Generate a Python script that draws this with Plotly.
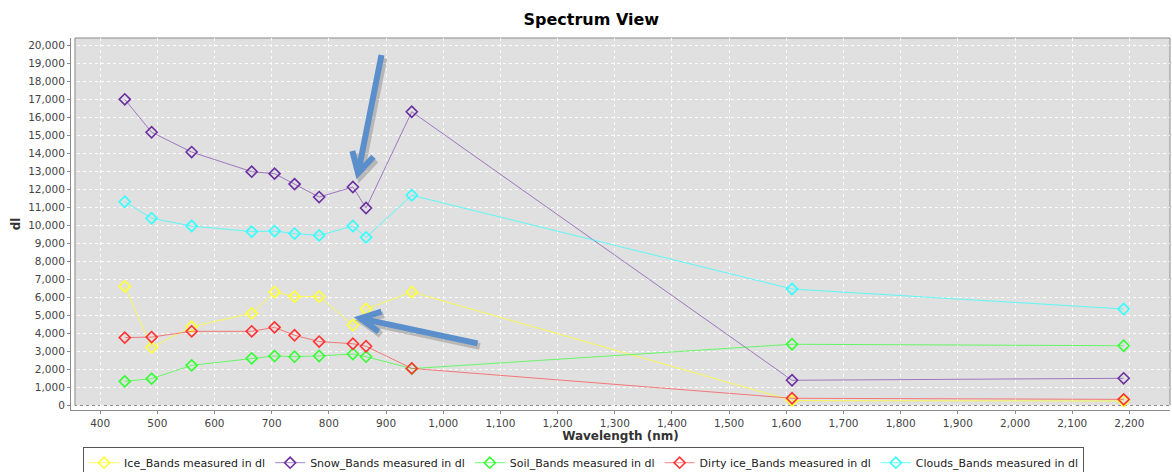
import plotly.graph_objects as go

# Band centre wavelengths (nm) and the measured values for each surface class
wavelength_nm = [443, 490, 560, 665, 705, 740, 783, 842, 865, 945, 1610, 2190]
ice_dl = [6610, 3220, 4370, 5110, 6290, 6040, 6040, 4460, 5350, 6290, 260, 240]
snow_dl = [17000, 15170, 14070, 12980, 12870, 12290, 11570, 12130, 10960, 16310, 1390, 1500]
soil_dl = [1330, 1480, 2220, 2610, 2740, 2700, 2740, 2850, 2700, 2040, 3390, 3310]
dirty_ice_dl = [3760, 3790, 4110, 4110, 4330, 3890, 3540, 3420, 3280, 2050, 390, 330]
clouds_dl = [11310, 10390, 9960, 9650, 9680, 9540, 9440, 9960, 9330, 11670, 6460, 5350]

series_names = [
    "Ice_Bands measured in dl",
    "Snow_Bands measured in dl",
    "Soil_Bands measured in dl",
    "Dirty ice_Bands measured in dl",
    "Clouds_Bands measured in dl",
]
series_values = [ice_dl, snow_dl, soil_dl, dirty_ice_dl, clouds_dl]
marker_colors = ["#ffff33", "#6a2ea0", "#33ff33", "#ff3333", "#33ffff"]
line_colors = [
    "rgba(255,255,40,0.75)",
    "rgba(110,50,165,0.6)",
    "rgba(50,255,50,0.7)",
    "rgba(255,50,50,0.6)",
    "rgba(50,255,255,0.75)",
]

fig = go.Figure()
for name, vals, mc, lc in zip(series_names, series_values, marker_colors, line_colors):
    fig.add_trace(go.Scatter(
        x=wavelength_nm, y=vals, name=name, mode="lines+markers",
        line=dict(color=lc, width=1),
        marker=dict(symbol="diamond-open", size=8.5, color=mc, line=dict(color=mc, width=1.6)),
    ))

# plot-area panel, inset slightly from the offset axis lines
fig.add_shape(type="rect", xref="paper", yref="paper", x0=0.0036, x1=1.0, y0=0.012, y1=1.0,
              fillcolor="#e0e0e0", line=dict(color="#8a8a8a", width=1), layer="below")

# callout arrows (shadow first, then the arrow itself)
arrow_color = "#5b8fcb"
arrows = [
    # (tail, tip, arm A, arm B) in axis units
    ((892, 19460), (851, 12890), (841, 14130), (878, 13810)),
    ((1060, 3440), (855, 4830), (892, 5200), (887, 4090)),
]
for tail, tip, a, b in arrows:
    path = (f"M {tail[0]},{tail[1]} L {tip[0]},{tip[1]} "
            f"M {a[0]},{a[1]} L {tip[0]},{tip[1]} L {b[0]},{b[1]}")
    spath = (f"M {tail[0]+4},{tail[1]-170} L {tip[0]+4},{tip[1]-170} "
             f"M {a[0]+4},{a[1]-170} L {tip[0]+4},{tip[1]-170} L {b[0]+4},{b[1]-170}")
    fig.add_shape(type="path", path=spath, xref="x", yref="y",
                  line=dict(color="rgba(0,0,0,0.18)", width=7), layer="above")
    fig.add_shape(type="path", path=path, xref="x", yref="y",
                  line=dict(color=arrow_color, width=6), layer="above")

axis_font = dict(family="DejaVu Sans", size=10.5, color="#444444")
fig.update_xaxes(
    range=[349, 2271], tick0=400, dtick=100, tickformat=",d",
    showgrid=True, gridcolor="rgba(255,255,255,0.9)", griddash="3px,3px", gridwidth=1,
    showline=True, linecolor="#8a8a8a", linewidth=1, zeroline=False,
    ticks="outside", ticklen=3, tickcolor="#8a8a8a", tickfont=axis_font,
    title=dict(text="<b>Wavelength (nm)</b>", font=dict(family="DejaVu Sans", size=12, color="#333333"),
               standoff=4),
)
fig.update_yaxes(
    range=[-261, 20406], tick0=0, dtick=1000, tickformat=",d",
    showgrid=True, gridcolor="rgba(255,255,255,0.9)", griddash="3px,3px", gridwidth=1,
    showline=True, linecolor="#8a8a8a", linewidth=1, zeroline=False,
    ticks="outside", ticklen=3, tickcolor="#8a8a8a", tickfont=axis_font,
    title=dict(text="<b>dl</b>", font=dict(family="DejaVu Sans", size=12, color="#333333"),
               standoff=4),
)

fig.update_layout(
    width=1172, height=472,
    margin=dict(l=71, r=2, t=38, b=62, autoexpand=False),
    paper_bgcolor="white", plot_bgcolor="white",
    title=dict(text="<b>Spectrum View</b>", x=0.5045, xref="container", xanchor="center",
               y=1 - 19 / 472, yanchor="middle",
               font=dict(family="DejaVu Sans", size=16, color="#000000")),
    legend=dict(orientation="h", x=0.011, xanchor="left", y=-0.1, yanchor="top",
                bgcolor="white", bordercolor="#555555", borderwidth=1,
                font=dict(family="DejaVu Sans", size=11, color="#222222"),
                itemwidth=30, tracegroupgap=0, entrywidthmode="pixels"),
    showlegend=True,
)

fig.write_html("out.html")
